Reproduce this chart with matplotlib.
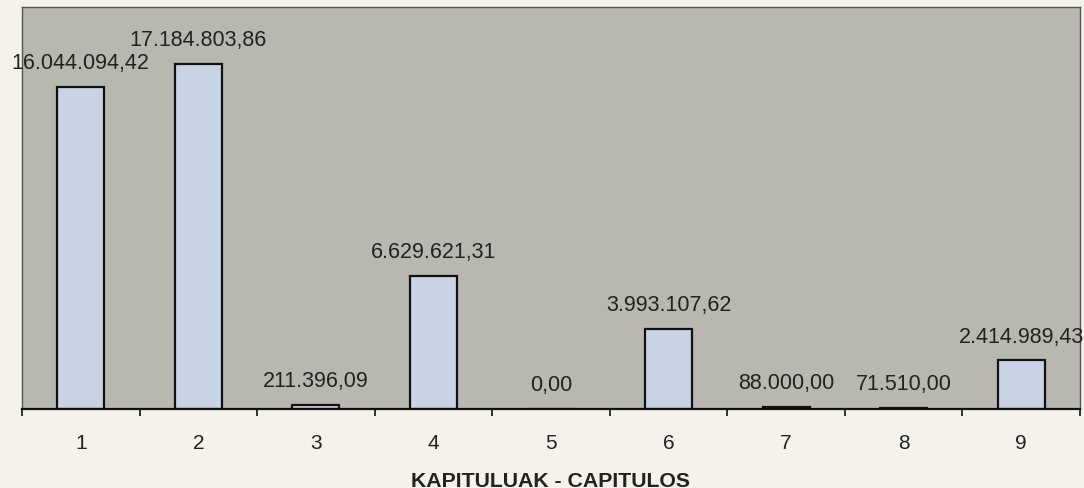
import matplotlib.pyplot as plt
import numpy as np

# data
capitulos = ['1', '2', '3', '4', '5', '6', '7', '8', '9']
valores = [16044094.42, 17184803.86, 211396.09, 6629621.31, 0.00,
           3993107.62, 88000.00, 71510.00, 2414989.43]


def formato(v):
    # 1.234.567,89 style
    s = f"{v:,.2f}"
    return s.replace(',', 'X').replace('.', ',').replace('X', '.')


plt.rcParams['font.family'] = ['Liberation Sans', 'DejaVu Sans']

fig = plt.figure(figsize=(10.84, 4.89), dpi=100, facecolor='#f4f2ea')
ax = fig.add_axes([0.0203, 0.1616, 0.976, 0.822])
ax.set_facecolor('#b8b8b0')

x = np.arange(len(capitulos))
ax.bar(x, valores, width=0.4, color='#c9d3e6', edgecolor='#111111', linewidth=1.6)

for xi, v in zip(x, valores):
    ax.annotate(formato(v), (xi, v), xytext=(0, 10), textcoords='offset points',
                ha='center', va='bottom', fontsize=15.5, color='#222222')

ax.set_xlim(-0.5, len(capitulos) - 0.5)
ax.set_ylim(0, 20000000)
ax.set_yticks([])

# ticks between categories, labels centered
ax.set_xticks(np.arange(-0.5, len(capitulos), 1.0))
ax.set_xticklabels([])
ax.set_xticks(x, minor=True)
ax.set_xticklabels(capitulos, minor=True, fontsize=15, color='#222222')
ax.tick_params(axis='x', which='major', length=5, width=1.2, direction='out', color='#111111')
ax.tick_params(axis='x', which='minor', length=0, pad=17)

ax.set_xlabel('KAPITULUAK - CAPITULOS', fontsize=15.3, fontweight='bold', color='#222222', labelpad=14)

for side in ['top', 'left', 'right']:
    ax.spines[side].set_color('#555555')
    ax.spines[side].set_linewidth(1.0)
ax.spines['bottom'].set_color('#111111')
ax.spines['bottom'].set_linewidth(1.6)

plt.savefig('out.png', dpi=100, facecolor=fig.get_facecolor())
